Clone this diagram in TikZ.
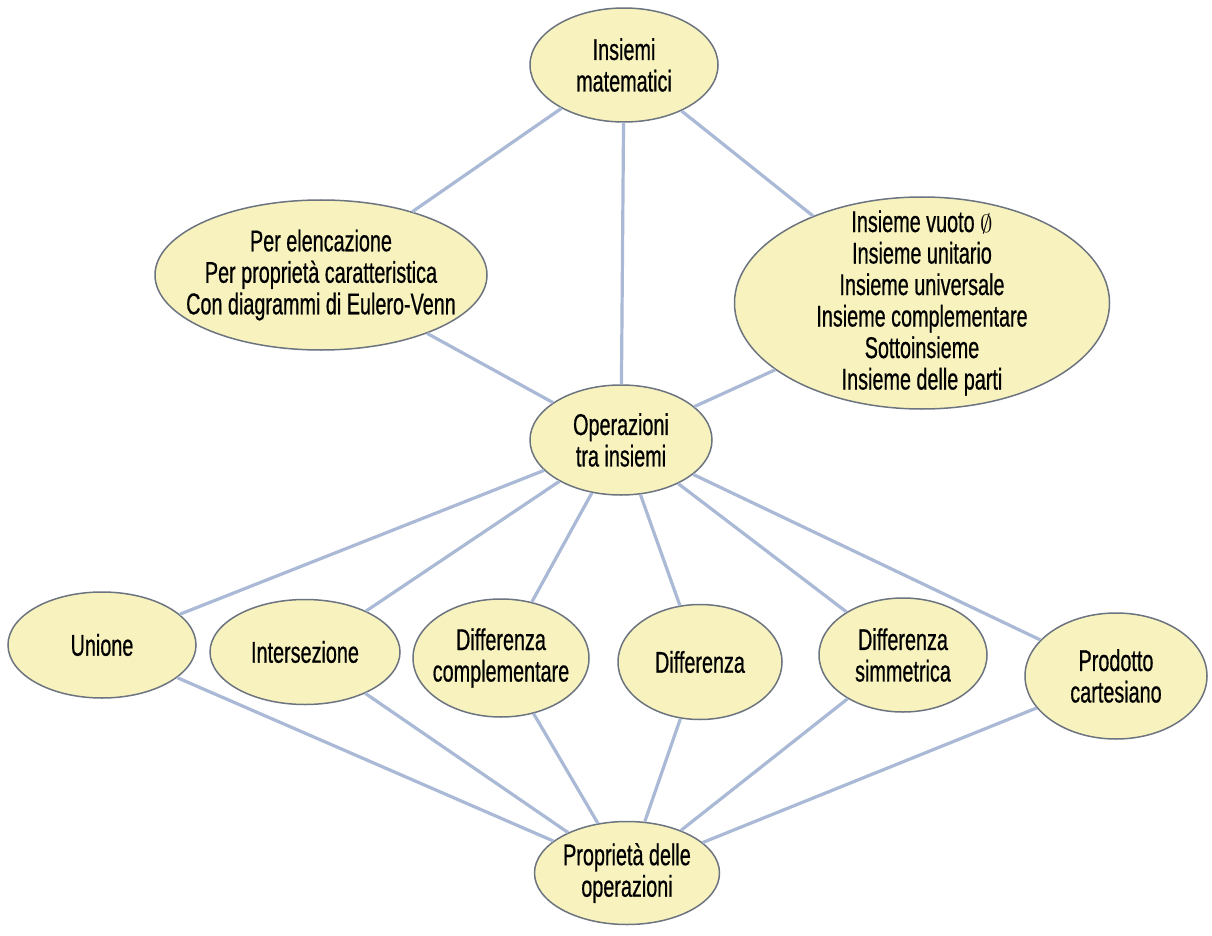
\documentclass[tikz,border=0pt]{standalone}
\usepackage{fontspec}
\setmainfont[FakeStretch=0.66,FakeBold=0.6]{Liberation Sans}
\usetikzlibrary{shapes.geometric}
\definecolor{fillY}{HTML}{F8F3BE}
\definecolor{edgeB}{HTML}{A9B9D6}
\definecolor{borderG}{HTML}{6C7480}
\begin{document}
\begin{tikzpicture}[x=1pt,y=-1pt,
  concept/.style={ellipse, draw=borderG, line width=1.5pt, fill=fillY, inner sep=0pt},
  lab/.style={font=\fontsize{30}{31.5}\selectfont, align=center, text=black},
  link/.style={draw=edgeB, line width=3.2pt}]
\fill[white] (0,0) rectangle (1212,936);
\useasboundingbox (0,0) rectangle (1212,936);

\node[concept, minimum width=188pt, minimum height=114pt, label={[lab]center:{Insiemi\\matematici}}] (im) at (624,65) {};
\node[concept, minimum width=332pt, minimum height=150pt, label={[lab]center:{Per elencazione\\Per proprietà caratteristica\\Con diagrammi di Eulero-Venn}}] (pe) at (321,275) {};
\node[concept, minimum width=375pt, minimum height=212pt, label={[lab]center:{Insieme vuoto \ensuremath{\emptyset}\\Insieme unitario\\Insieme universale\\Insieme complementare\\Sottoinsieme\\Insieme delle parti}}] (rt) at (922,303) {};
\node[concept, minimum width=182pt, minimum height=110pt, label={[lab]center:{Operazioni\\tra insiemi}}] (op) at (621,440) {};
\node[concept, minimum width=188pt, minimum height=106pt, label={[lab]center:{Unione}}] (un) at (102,645) {};
\node[concept, minimum width=190pt, minimum height=105pt, label={[lab]center:{Intersezione}}] (in) at (305,652) {};
\node[concept, minimum width=176pt, minimum height=118pt, label={[lab]center:{Differenza\\complementare}}] (dc) at (501,658) {};
\node[concept, minimum width=164pt, minimum height=115pt, label={[lab]center:{Differenza}}] (di) at (700,662) {};
\node[concept, minimum width=168pt, minimum height=114pt, label={[lab]center:{Differenza\\simmetrica}}] (ds) at (903,655) {};
\node[concept, minimum width=182pt, minimum height=126pt, label={[lab]center:{Prodotto\\cartesiano}}] (pc) at (1116,676) {};
\node[concept, minimum width=185pt, minimum height=103pt, label={[lab]center:{Proprietà delle\\operazioni}}] (pr) at (627,873) {};

\foreach \a/\b in {im/pe, im/op, im/rt, pe/op, rt/op,
  op/un, op/in, op/dc, op/di, op/ds, op/pc,
  un/pr, in/pr, dc/pr, di/pr, ds/pr, pc/pr}
  \draw[link] (\a) -- (\b);
\end{tikzpicture}
\end{document}
